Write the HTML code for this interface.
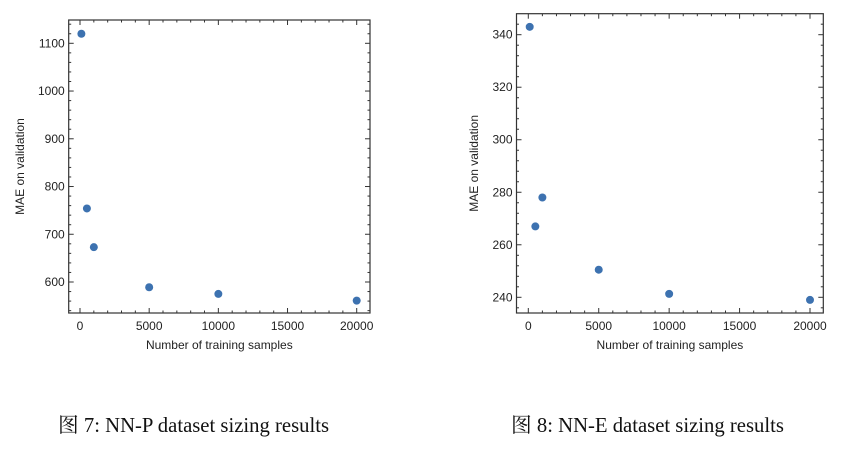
<!DOCTYPE html>
<html><head><meta charset="utf-8"><style>
body{margin:0;background:#fff;width:861px;height:449px;overflow:hidden}
svg text{font-family:"Liberation Sans",sans-serif;fill:#222}
.cap{font-family:"Liberation Serif","Noto Serif CJK SC",serif;font-size:20.7px;fill:#111}
</style></head><body>
<svg id="s" width="861" height="449">
<text class="cap" x="58" y="432">图 7: NN-P dataset sizing results</text>
<text class="cap" x="511" y="432">图 8: NN-E dataset sizing results</text>
</svg>
<script>
const samplesP=[100,500,1000,5000,10000,20000];
const maeP=[1120,754,673,589,575,561];
const samplesE=[100,500,1000,5000,10000,20000];
const maeE=[343,267,278,250.5,241.3,239];
const xTicks=[0,5000,10000,15000,20000];
const yTicksP=[600,700,800,900,1000,1100];
const yTicksE=[240,260,280,300,320,340];
const NS='http://www.w3.org/2000/svg';
const svg=document.getElementById('s');
function mk(t,a,p){const e=document.createElementNS(NS,t);for(const k in a)e.setAttribute(k,a[k]);(p||svg).appendChild(e);return e;}
function chart(cfg,xs,ys,yt,name){
  const g=mk('g',{});
  
  
  const X=v=>cfg.x0+(v-0)*(cfg.x1-cfg.x0)/20000;
  const Y=v=>cfg.ya+(v-cfg.va)*(cfg.yb-cfg.ya)/(cfg.vb-cfg.va);
  const L=cfg.L,R=cfg.R,T=cfg.T,B=cfg.B;
  for(let v=-1000;v<=21000;v+=1000){const x=X(v);if(x<L||x>R)continue;const maj=v%5000===0;const len=maj?5:2.5;
    mk('line',{x1:x,x2:x,y1:B,y2:B-len,stroke:'#333','stroke-width':1},g);
    mk('line',{x1:x,x2:x,y1:T,y2:T+len,stroke:'#333','stroke-width':1},g);}
  const step=cfg.minor;
  for(let v=cfg.vmin;v<=cfg.vmax;v+=step){const y=Y(v);if(y<T||y>B)continue;const maj=Math.abs((v/cfg.major)-Math.round(v/cfg.major))<1e-6;const len=maj?5:2.5;
    mk('line',{x1:L,x2:L+len,y1:y,y2:y,stroke:'#333','stroke-width':1},g);
    mk('line',{x1:R,x2:R-len,y1:y,y2:y,stroke:'#333','stroke-width':1},g);}
  const f=mk('rect',{x:L,y:T,width:R-L,height:B-T,fill:'none',stroke:'#333','stroke-width':1.2},g);
  
  
  xTicks.forEach(v=>{const t=mk('text',{x:X(v),y:B+17,'text-anchor':'middle','font-size':12},g);t.textContent=v;
    
    });
  yt.forEach(v=>{const t=mk('text',{x:L-4,y:Y(v)+4,'text-anchor':'end','font-size':12},g);t.textContent=v;
    
    });
  const xl=mk('text',{x:(L+R)/2,y:B+36,'text-anchor':'middle','font-size':12},g);xl.textContent='Number of training samples';
  
  
  const yx=cfg.ylabX,yy=(T+B)/2;
  const yl=mk('text',{x:yx,y:yy,'text-anchor':'middle','font-size':12,transform:`rotate(-90 ${yx} ${yy})`},g);yl.textContent='MAE on validation';
  
  
  xs.forEach((v,i)=>{const c=mk('circle',{cx:X(v),cy:Y(ys[i]),r:4,fill:'#3d72b0'},g);
    
    });
}
chart({L:68.7,R:370,T:20,B:313,x0:80,x1:356.7,ya:43.3,va:1100,yb:282,vb:600,minor:20,major:100,vmin:500,vmax:1200,ylabX:24},samplesP,maeP,yTicksP,'chart-nn-p');
chart({L:516.5,R:823.3,T:13.7,B:313,x0:528.3,x1:810,ya:34.7,va:340,yb:297.3,vb:240,minor:4,major:20,vmin:220,vmax:360,ylabX:478},samplesE,maeE,yTicksE,'chart-nn-e');
</script>
</body></html>
